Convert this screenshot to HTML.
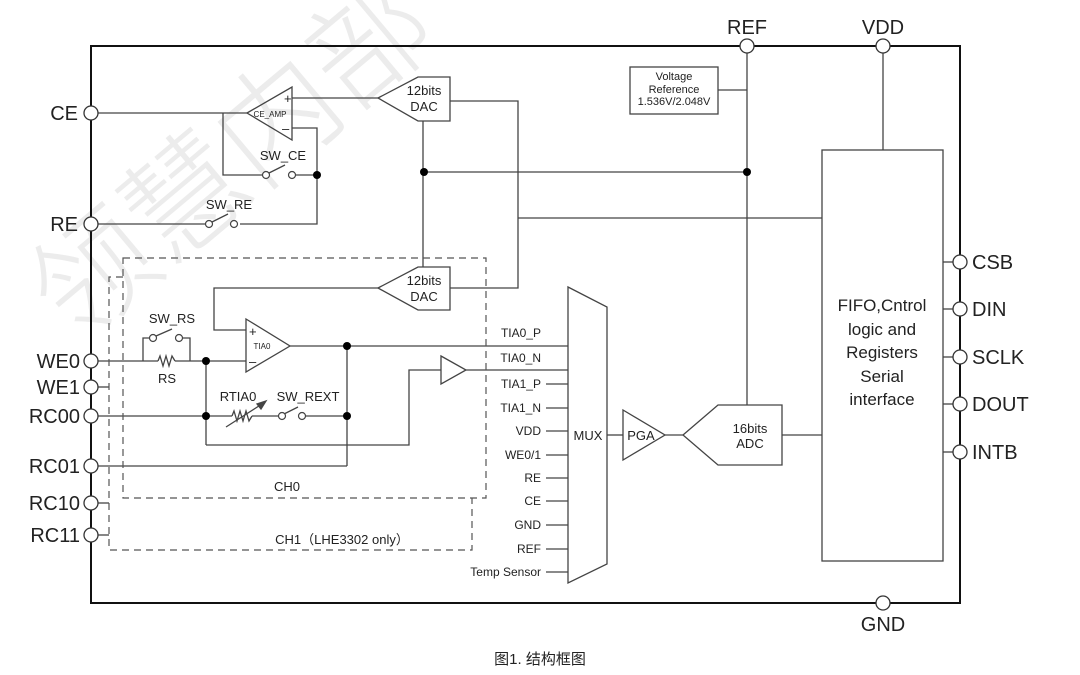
<!DOCTYPE html>
<html><head><meta charset="utf-8"><style>
html,body{margin:0;padding:0;background:#fff}
svg{display:block}
text{font-family:"Liberation Sans","Noto Sans CJK SC",sans-serif;fill:#222}
</style></head><body>
<svg width="1080" height="675" viewBox="0 0 1080 675" xmlns="http://www.w3.org/2000/svg">
<g font-size="120">
<text x="0" y="0" transform="translate(75,345) rotate(-40)" style="fill:#ececec;font-family:'Noto Sans CJK SC',sans-serif;font-weight:300">领慧内部</text>
</g>
<g fill="none" stroke="#444" stroke-width="1.3">
<rect x="91" y="46" width="869" height="557" stroke="#111" stroke-width="2"/>
<rect x="630" y="67" width="88" height="47"/>
<line x1="718" y1="90" x2="747" y2="90"/>
<line x1="747" y1="46" x2="747" y2="405"/>
<line x1="883" y1="46" x2="883" y2="150"/>
<rect x="822" y="150" width="121" height="411"/>
<line x1="424" y1="172" x2="747" y2="172"/>
<line x1="518" y1="218" x2="822" y2="218"/>
<polygon points="683,435 718,405 782,405 782,465 718,465"/>
<line x1="782" y1="435" x2="822" y2="435"/>
<polygon points="623,410 665,435 623,460"/>
<line x1="665" y1="435" x2="683" y2="435"/>
<line x1="607" y1="435" x2="623" y2="435"/>
<polygon points="568,287 607,307 607,564 568,583"/>
<line x1="943" y1="262" x2="953" y2="262"/>
<line x1="943" y1="309" x2="953" y2="309"/>
<line x1="943" y1="357" x2="953" y2="357"/>
<line x1="943" y1="404" x2="953" y2="404"/>
<line x1="943" y1="452" x2="953" y2="452"/>
<line x1="546" y1="384" x2="568" y2="384"/>
<line x1="546" y1="408" x2="568" y2="408"/>
<line x1="546" y1="431" x2="568" y2="431"/>
<line x1="546" y1="455" x2="568" y2="455"/>
<line x1="546" y1="478" x2="568" y2="478"/>
<line x1="546" y1="501" x2="568" y2="501"/>
<line x1="546" y1="525" x2="568" y2="525"/>
<line x1="546" y1="549" x2="568" y2="549"/>
<line x1="546" y1="572" x2="568" y2="572"/>
<line x1="98" y1="113" x2="247" y2="113"/>
<polygon points="247,113 292,87 292,140"/>
<line x1="292" y1="98" x2="378" y2="98"/>
<polygon points="378,98 418,77 450,77 450,121 418,121"/>
<polyline points="450,101 518,101 518,288 450,288"/>
<polygon points="378,288 418,267 450,267 450,310 418,310"/>
<line x1="423" y1="121" x2="423" y2="267"/>
<polyline points="292,128 317,128 317,224 240,224"/>
<polyline points="223,113 223,175 263,175"/>
<line x1="269" y1="173" x2="285" y2="165"/>
<line x1="296" y1="175" x2="317" y2="175"/>
<line x1="98" y1="224" x2="206" y2="224"/>
<line x1="212" y1="222" x2="228" y2="214"/>
<polygon points="246,319 290,346 246,372"/>
<polyline points="246,330 214,330 214,288 378,288"/>
<line x1="290" y1="346" x2="568" y2="346"/>
<line x1="98" y1="361" x2="158" y2="361"/>
<polyline points="158,361 160,356 163,366 166,356 169,366 172,356 175,361"/>
<line x1="175" y1="361" x2="246" y2="361"/>
<polyline points="143,361 143,338 150,338"/>
<polyline points="182,338 190,338 190,361"/>
<line x1="156" y1="336" x2="172" y2="329"/>
<line x1="206" y1="361" x2="206" y2="445"/>
<line x1="98" y1="416" x2="232" y2="416"/>
<polyline points="232,416 234,411 237,421 240,411 243,421 246,411 249,421 252,416"/>
<line x1="252" y1="416" x2="279" y2="416"/>
<line x1="226" y1="427" x2="262" y2="404"/>
<polygon points="266,401 257,404 261,409" fill="#444"/>
<line x1="284" y1="414" x2="298" y2="407"/>
<line x1="305" y1="416" x2="347" y2="416"/>
<line x1="347" y1="346" x2="347" y2="466"/>
<line x1="98" y1="466" x2="347" y2="466"/>
<polyline points="206,445 409,445 409,370 441,370"/>
<polygon points="441,356 466,370 441,384"/>
<line x1="466" y1="370" x2="568" y2="370"/>
<line x1="98" y1="387" x2="109" y2="387"/>
<line x1="98" y1="503" x2="109" y2="503"/>
<line x1="98" y1="535" x2="109" y2="535"/>
</g>
<g fill="none" stroke="#555" stroke-width="1.2" stroke-dasharray="7,5">
<rect x="123" y="258" width="363" height="240"/>
<polyline points="123,277 109,277 109,550 472,550 472,498"/>
</g>
<g fill="#fff" stroke="#444" stroke-width="1.2">
<circle cx="266" cy="175" r="3.5"/><circle cx="292" cy="175" r="3.5"/>
<circle cx="209" cy="224" r="3.5"/><circle cx="234" cy="224" r="3.5"/>
<circle cx="153" cy="338" r="3.5"/><circle cx="179" cy="338" r="3.5"/>
<circle cx="282" cy="416" r="3.5"/><circle cx="302" cy="416" r="3.5"/>
</g>
<g fill="#000">
<circle cx="747" cy="172" r="4"/><circle cx="424" cy="172" r="4"/>
<circle cx="317" cy="175" r="4"/><circle cx="206" cy="361" r="4"/>
<circle cx="347" cy="346" r="4"/><circle cx="206" cy="416" r="4"/>
<circle cx="347" cy="416" r="4"/>
</g>
<g fill="#fff" stroke="#333" stroke-width="1.3">
<circle cx="91" cy="113" r="7"/><circle cx="91" cy="224" r="7"/>
<circle cx="91" cy="361" r="7"/><circle cx="91" cy="387" r="7"/>
<circle cx="91" cy="416" r="7"/><circle cx="91" cy="466" r="7"/>
<circle cx="91" cy="503" r="7"/><circle cx="91" cy="535" r="7"/>
<circle cx="747" cy="46" r="7"/><circle cx="883" cy="46" r="7"/>
<circle cx="883" cy="603" r="7"/>
<circle cx="960" cy="262" r="7"/><circle cx="960" cy="309" r="7"/>
<circle cx="960" cy="357" r="7"/><circle cx="960" cy="404" r="7"/>
<circle cx="960" cy="452" r="7"/>
</g>
<g font-size="20" text-anchor="end">
<text x="78" y="120">CE</text><text x="78" y="231">RE</text>
<text x="80" y="368">WE0</text><text x="80" y="394">WE1</text>
<text x="80" y="423">RC00</text><text x="80" y="473">RC01</text>
<text x="80" y="510">RC10</text><text x="80" y="542">RC11</text>
</g>
<g font-size="20">
<text x="747" y="34" text-anchor="middle">REF</text>
<text x="883" y="34" text-anchor="middle">VDD</text>
<text x="883" y="631" text-anchor="middle">GND</text>
<text x="972" y="269">CSB</text><text x="972" y="316">DIN</text>
<text x="972" y="364">SCLK</text><text x="972" y="411">DOUT</text>
<text x="972" y="459">INTB</text>
</g>
<g font-size="17" text-anchor="middle">
<text x="882" y="311">FIFO,Cntrol</text>
<text x="882" y="335">logic and</text>
<text x="882" y="358">Registers</text>
<text x="882" y="382">Serial</text>
<text x="882" y="405">interface</text>
</g>
<g font-size="11" text-anchor="middle">
<text x="674" y="80">Voltage</text>
<text x="674" y="93">Reference</text>
<text x="674" y="105">1.536V/2.048V</text>
</g>
<g font-size="13" text-anchor="middle">
<text x="424" y="95">12bits</text><text x="424" y="111">DAC</text>
<text x="424" y="285">12bits</text><text x="424" y="301">DAC</text>
<text x="750" y="433">16bits</text><text x="750" y="448">ADC</text>
<text x="588" y="440">MUX</text>
<text x="641" y="440">PGA</text>
<text x="283" y="160">SW_CE</text>
<text x="229" y="209">SW_RE</text>
<text x="172" y="323">SW_RS</text>
<text x="167" y="383">RS</text>
<text x="238" y="401">RTIA0</text>
<text x="308" y="401">SW_REXT</text>
<text x="287" y="491">CH0</text>
<text x="342" y="544">CH1（LHE3302 only）</text>
</g>
<g font-size="8" text-anchor="middle">
<text x="270" y="117">CE_AMP</text>
<text x="262" y="349">TIA0</text>
</g>
<g font-size="13">
<text x="284" y="103">+</text><text x="282" y="133">–</text>
<text x="249" y="336">+</text><text x="249" y="366">–</text>
</g>
<g font-size="12" text-anchor="end">
<text x="541" y="337">TIA0_P</text>
<text x="541" y="362">TIA0_N</text>
<text x="541" y="388">TIA1_P</text>
<text x="541" y="412">TIA1_N</text>
<text x="541" y="435">VDD</text>
<text x="541" y="459">WE0/1</text>
<text x="541" y="482">RE</text>
<text x="541" y="505">CE</text>
<text x="541" y="529">GND</text>
<text x="541" y="553">REF</text>
<text x="541" y="576">Temp Sensor</text>
</g>
<text x="540" y="664" font-size="15" text-anchor="middle">图1. 结构框图</text>
</svg>
</body></html>
